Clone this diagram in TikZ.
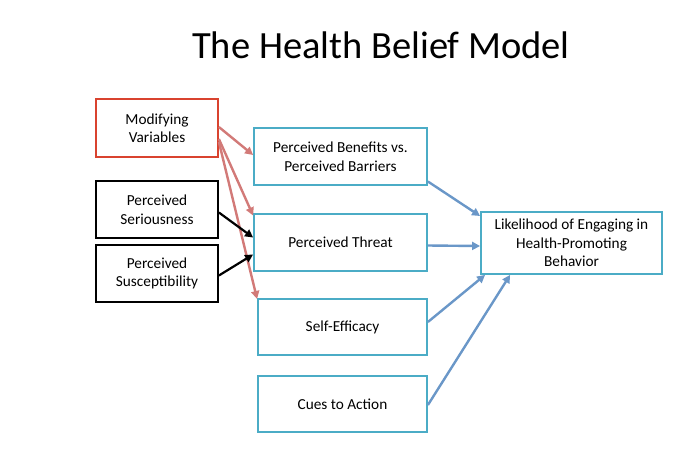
\documentclass[tikz,border=0pt]{standalone}
\usepackage{fontspec}
\setmainfont{Carlito}
\usetikzlibrary{arrows.meta}
\definecolor{tealb}{HTML}{4BACC6}
\definecolor{redb}{HTML}{D9432F}
\definecolor{reda}{HTML}{D27A78}
\definecolor{bluea}{HTML}{6A97C8}
\begin{document}
\begin{tikzpicture}[x=1pt,y=-1pt,
  box/.style={draw,line width=1.8pt,align=center,font=\fontsize{15.3}{18.5}\selectfont,inner sep=0pt},
  redbox/.style={box,draw=redb},
  blkbox/.style={box,draw=black},
  tealbox/.style={box,draw=tealb},
  ra/.style={draw=reda,line width=2.4pt,-{Triangle[length=8pt,width=8pt]}},
  ba/.style={draw=black,line width=2.2pt,-{Triangle[length=8pt,width=8pt]}},
  bl/.style={draw=bluea,line width=2.4pt,-{Triangle[length=8pt,width=8pt]}}]
\useasboundingbox (0,0) rectangle (699,459);
\node[font=\fontsize{38.5}{44}\selectfont] (title) at (381,45) {The Health Belief Model};
\node[redbox,minimum width=122pt,minimum height=58pt] (mod) at (157,128) {Modifying\\Variables};
\node[blkbox,minimum width=122pt,minimum height=57pt] (ser) at (157,209.5) {Perceived\\Seriousness};
\node[blkbox,minimum width=122pt,minimum height=57pt] (sus) at (157,273.5) {Perceived\\Susceptibility};
\node[tealbox,minimum width=173pt,minimum height=57pt] (ben) at (340.5,156.5) {Perceived Benefits vs.\\Perceived Barriers};
\node[tealbox,minimum width=173pt,minimum height=57pt] (thr) at (340.5,242.5) {Perceived Threat};
\node[tealbox,minimum width=169pt,minimum height=56pt] (eff) at (342.5,327) {Self-Efficacy};
\node[tealbox,minimum width=169pt,minimum height=56pt] (cue) at (342.5,404) {Cues to Action};
\node[tealbox,minimum width=181pt,minimum height=62pt] (lik) at (571.5,243) {Likelihood of Engaging in\\Health-Promoting\\Behavior};
\draw[ra] ([yshift=1pt]mod.east) -- ([yshift=1.5pt]ben.west);
\draw[ra] ([yshift=-11pt]mod.east) -- ([yshift=27pt]thr.west);
\draw[ra] ([yshift=-14pt]mod.east) -- ([yshift=28pt]eff.west);
\draw[ba] ([yshift=-3pt]ser.east) -- ([yshift=5pt]thr.west);
\draw[ba] ([yshift=-2pt]sus.east) -- ([yshift=-12pt]thr.west);
\draw[bl] ([yshift=-25pt]ben.east) -- ([yshift=27pt]lik.west);
\draw[bl] ([yshift=-3pt]thr.east) -- ([yshift=-3pt]lik.west);
\draw[bl] ([yshift=5pt]eff.east) -- ([xshift=5pt]lik.south west);
\draw[bl] ([yshift=-1pt]cue.east) -- ([xshift=30pt]lik.south west);
\end{tikzpicture}
\end{document}
